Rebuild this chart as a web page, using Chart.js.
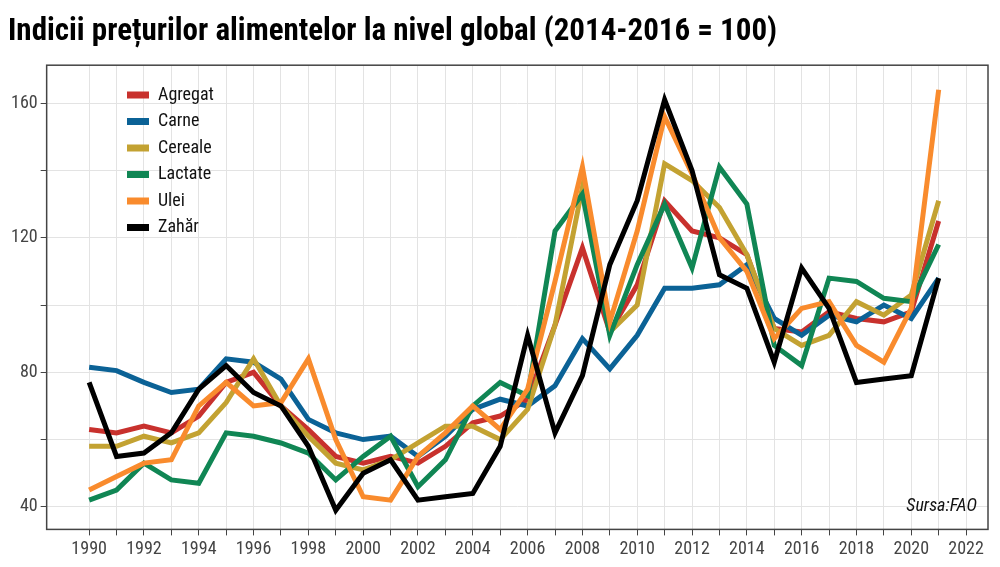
<!DOCTYPE html>
<html><head><meta charset="utf-8">
<script src="https://cdn.jsdelivr.net/npm/chart.js@4"></script>
<style>html,body{margin:0;background:#fff}#w{width:1000px;height:567px;position:relative}</style>
</head><body><div id="w"><canvas id="c" width="1000" height="567"></canvas></div>
<script>
const years=[];for(let y=1990;y<=2021;y++)years.push(y);
const agregat=[63,62,64,62,67,77,80,70,63,55,53,55,53,58,65,67,72,94,117,92,106,131,122,120,115,93,92,98,96,95,98,125];
const carne=[81.5,80.5,77,74,75,84,83,78,66,62,60,61,55,61,69,72,70,76,90,81,91,105,105,106,112,96,91,97,95,100,96,108];
const cereale=[58,58,61,59,62,71,84,70,61,53,51,54,59,64,64,60,69,94,135,92,100,142,137,129,115,93,88,91,101,97,103,131];
const lactate=[42,45,53,48,47,62,61,59,56,48,55,61,46,54,70,77,73,122,133,91,112,130,111,141,130,88,82,108,107,102,101,118];
const ulei=[45,49,53,54,70,77,70,71,84,60,43,42,55,62,70,63,75,107,141,95,122,156,139,120,110,90,99,101,88,83,99,164];
const zahar=[77,55,56,62,75,82,74,70,58,39,50,54,42,43,44,58,91,62,79,112,131,161,140,109,105,83,111,99,77,78,79,108];
const names=["Agregat","Carne","Cereale","Lactate","Ulei","Zahăr"];
const colors=["#c8312d","#0b6296","#c3a232","#108654","#f98b2d","#000000"];
const series=[agregat,carne,cereale,lactate,ulei,zahar];
const F="'Liberation Sans Narrow','Roboto Condensed','Liberation Sans',sans-serif";
const legendPlugin={id:'lg',afterDraw(ch){const c=ch.ctx;c.save();
 c.font="18px "+F;c.textBaseline="middle";
 names.forEach((n,i)=>{const y=95+i*26.5;c.fillStyle=colors[i];c.fillRect(127,y-3.5,22,7);c.fillStyle="#111";c.fillText(n,158,y);});
 c.font="italic 18px "+F;c.textAlign="right";c.fillText("Sursa:FAO",977,506);
 const a=ch.chartArea;c.strokeStyle="#444";c.lineWidth=1.5;c.strokeRect(a.left,a.top,a.right-a.left,a.bottom-a.top);
 c.restore();}};
new Chart(document.getElementById('c'),{type:'line',
data:{datasets:series.map((s,i)=>({label:names[i],data:s.map((v,j)=>({x:years[j],y:v})),borderColor:colors[i],backgroundColor:colors[i],borderWidth:5,pointRadius:0,tension:0,order:i===5?0:6-i}))},
options:{responsive:false,animation:false,devicePixelRatio:1,
layout:{padding:{left:8,right:12,top:0,bottom:4}},
plugins:{legend:{display:false},tooltip:{enabled:false},
 title:{display:true,text:"Indicii prețurilor alimentelor la nivel global (2014-2016 = 100)",align:'start',color:'#000',font:{family:F,size:31,weight:'bold'},padding:{top:14,bottom:14}}},
scales:{x:{type:'linear',min:1988.45,max:2022.8,afterBuildTicks(ax){ax.ticks=[];for(let y=1990;y<=2022;y++)ax.ticks.push({value:y});},
 grid:{color:'#e3e3e3',tickColor:'#444',tickLength:6,drawTicks:true},border:{display:false},
 ticks:{autoSkip:false,maxRotation:0,color:'#444',font:{family:F,size:18},callback:v=>v%2===0?String(v):''}},
 y:{min:33.3,max:171.3,afterBuildTicks(ax){ax.ticks=[];for(let v=40;v<=160;v+=20)ax.ticks.push({value:v});},
 grid:{color:'#e3e3e3',tickColor:'#444',tickLength:6},border:{display:false},
 ticks:{color:'#444',font:{family:F,size:18},callback:v=>v%40===0?String(v):''}}}},
plugins:[legendPlugin]});
</script></body></html>
